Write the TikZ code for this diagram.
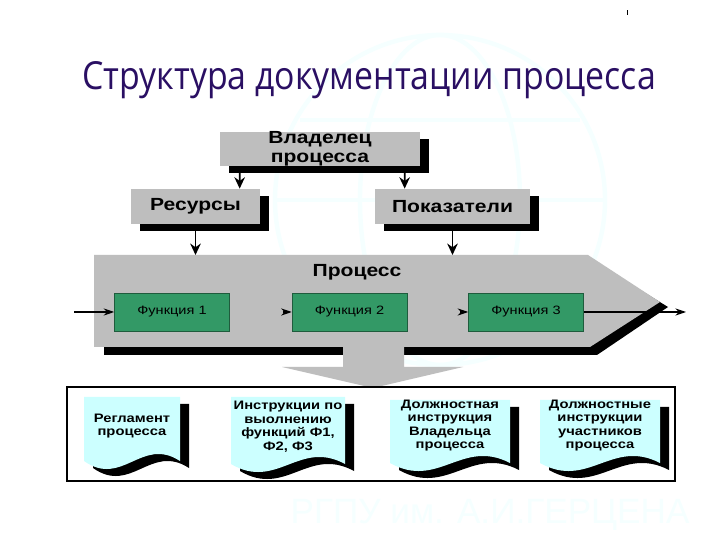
\documentclass[tikz,border=0pt]{standalone}
\usepackage{fontspec}
\setmainfont{Liberation Sans}
\newfontfamily\titlefont[FakeStretch=.875]{Open Sans}
\newfontfamily\boxfont[FakeStretch=1.2]{Liberation Sans}
\usetikzlibrary{shadows,arrows.meta}
\definecolor{boxgray}{HTML}{BEBEBE}
\definecolor{funcgreen}{HTML}{339966}
\definecolor{doccyan}{HTML}{CCFFFF}
\definecolor{titleviolet}{HTML}{2A0F63}
\definecolor{markcyan}{HTML}{F5FFFF}
\newcommand{\docshape}[4]{(#1,#3) -- (#2,#3) -- (#2,#4) .. controls ({#1+.6*(#2-#1)},#4-25) and ({#1+.4*(#2-#1)},#4+27) .. (#1,#4) -- cycle}
\tikzset{
	grayblock/.style={fill=boxgray,inner sep=0pt,align=center,font=\boxfont\bfseries\fontsize{10}{10.8}\selectfont,
		copy shadow={shadow xshift=.18cm,shadow yshift=-.14cm,fill=black,draw=none}},
	funcbox/.style={fill=funcgreen,draw=funcgreen!60!black,line width=.3pt,inner sep=0pt,minimum width=2.3cm,minimum height=.76cm,
		font=\boxfont\fontsize{6.9}{7}\selectfont},
	arr/.style={-{Stealth[length=6.5pt,width=6pt]},line width=1pt},
	arrthin/.style={-{Stealth[length=6pt,width=4pt]},line width=.7pt}
}
\begin{document}
\begin{tikzpicture}[x=.02cm,y=-.02cm]
	\useasboundingbox (0,0) rectangle (720,540);
	\fill[white] (0,0) rectangle (720,540);
	% faint background
	\begin{scope}[draw=markcyan,line width=2.5pt]
	\draw (440,200) circle (165);
	\draw (440,200) ellipse (80 and 165);
	\draw (275,200) -- (605,200) (300,120) -- (580,120) (300,280) -- (580,280);
	\end{scope}
	\node[text=markcyan,font=\fontsize{20}{20}\selectfont] (mark) at (490,515) {РГПУ им. А.И.ГЕРЦЕНА};
	\fill (627,10) rectangle (627.8,15);
	\node[text=titleviolet,font=\titlefont\fontsize{22}{26}\selectfont] (title) at (369,80) {Структура документации процесса};

	\node[grayblock,minimum width=4cm,minimum height=.68cm] (owner) at (320,149) {Владелец\\процесса};
	\node[grayblock,minimum width=2.58cm,minimum height=.7cm] (res) at (195.5,206.5) {Ресурсы};
	\node[grayblock,minimum width=3.1cm,minimum height=.7cm] (ind) at (452.5,206.5) {Показатели};

	% process arrow
	\fill[black] (104,264) -- (598,264) -- (668,307) -- (597,355) -- (104,355) -- cycle;
	\fill[boxgray] (94,255) -- (588,255) -- (660,302) -- (590,347) -- (94,347) -- cycle;
	\coordinate (ptop) at (94,255);
	\coordinate (pout) at (686,312);
	\node[font=\boxfont\bfseries\fontsize{10}{11}\selectfont] (proc) at (357,272) {Процесс};
	\node[funcbox] (f1) at (172,312) {Функция 1};
	\node[funcbox] (f2) at (349.5,312) {Функция 2};
	\node[funcbox] (f3) at (526,312) {Функция 3};

	\draw[arr] ([shift={(20,0)}]owner.south west) -- ([shift={(109,0)}]res.north west);
	\draw[arr] ([shift={(185,0)}]owner.south west) -- ([shift={(30,0)}]ind.north west);
	\draw[arr] (res.south) -- (res.south |- ptop);
	\draw[arr] (ind.south) -- (ind.south |- ptop);
	\draw[arrthin] ([shift={(-40,0)}]f1.west) -- (f1.west);
	\draw[arrthin] ([shift={(-9,0)}]f2.west) -- (f2.west);
	\draw[arrthin] ([shift={(-8,0)}]f3.west) -- (f3.west);
	\draw[arrthin] (f3.east) -- (pout);

	% result block
	\fill[boxgray] (343,338) -- (404,338) -- (404,367) -- (463,367) -- (373,388) -- (282,367) -- (343,367) -- cycle;
	\draw[line width=1pt] (67,387) rectangle (675,481);
	\foreach \n/\xl/\xr/\yt/\yb/\xc/\yc/\t in {
		doca/84/180/397/461/132/426/{Регламент\\процесса},
		docb/231/345/397/464/288/426.5/{Инструкции по\\выолнению\\функций Ф1,\\Ф2, Ф3},
		docc/390/510/400/463/450/425.5/{Должностная\\инструкция\\Владельца\\процесса},
		docd/540/660/400/463/600/425.5/{Должностные\\инструкции\\участников\\процесса}}{
		\fill[black,shift={(9,7)}] \docshape{\xl}{\xr}{\yt}{\yb};
		\fill[doccyan] \docshape{\xl}{\xr}{\yt}{\yb};
		\node[align=center,inner sep=0pt,font=\boxfont\bfseries\fontsize{7}{7.7}\selectfont] (\n) at (\xc,\yc) {\t};
	}
\end{tikzpicture}
\end{document}
